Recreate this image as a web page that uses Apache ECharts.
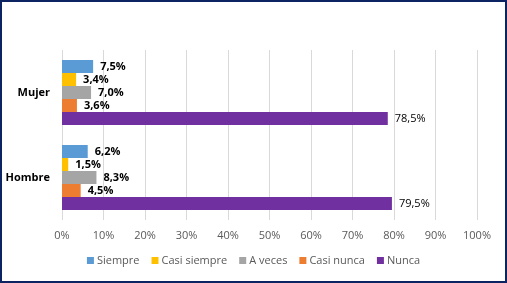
<!DOCTYPE html>
<html>
<head>
<meta charset="utf-8">
<script src="https://cdn.jsdelivr.net/npm/echarts@6/dist/echarts.min.js"></script>
<style>
  html, body { margin: 0; padding: 0; background: #fff; }
  #chart { width: 507px; height: 283px; box-sizing: border-box; border: 2px solid #0C2461; }
</style>
</head>
<body>
<div id="chart"></div>
<script>
  // categorias (de abajo hacia arriba)
  const categorias = ['Hombre', 'Mujer'];
  const nombres = ['Siempre', 'Casi siempre', 'A veces', 'Casi nunca', 'Nunca'];
  const siempre = [6.2, 7.5];
  const casiSiempre = [1.5, 3.4];
  const aVeces = [8.3, 7.0];
  const casiNunca = [4.5, 3.6];
  const nunca = [79.5, 78.5];
  const colores = ['#5B9BD5', '#FFC000', '#A5A5A5', '#ED7D31', '#7030A0'];

  const valores = [siempre, casiSiempre, aVeces, casiNunca, nunca];

  const myChart = echarts.init(document.getElementById('chart'));

  const fmt = p => p.value.toFixed(1).replace('.', ',') + '%';

  const option = {
    animation: false,
    textStyle: { fontFamily: 'Open Sans' },
    grid: { left: 60, right: 28, top: 48, bottom: 61 },
    legend: {
      data: nombres,
      bottom: 10,
      left: 'center',
      itemWidth: 7,
      itemHeight: 7,
      itemGap: 12,
      icon: 'rect',
      textStyle: { color: '#595959', fontSize: 11, padding: [0, 0, 0, -2] }
    },
    xAxis: {
      type: 'value',
      min: 0,
      max: 100,
      interval: 10,
      axisLine: { show: false },
      axisTick: { show: false },
      axisLabel: { color: '#595959', fontSize: 11, formatter: '{value}%', margin: 10 },
      splitLine: { lineStyle: { color: '#D9D9D9', width: 1 } }
    },
    yAxis: {
      type: 'category',
      data: categorias,
      axisLine: { show: false },
      axisTick: { show: false },
      axisLabel: { color: '#000', fontSize: 11, fontWeight: 'bold', margin: 12 }
    },
    // con eje de categorias vertical la primera serie queda arriba
    series: nombres.map((n, i) => ({
      type: 'bar',
      name: n,
      data: valores[i],
      barWidth: 13,
      barGap: '0%',
      itemStyle: { color: colores[i] },
      label: {
        show: true,
        position: 'right',
        distance: 7,
        formatter: fmt,
        color: '#000',
        fontSize: 11,
        fontWeight: i === 4 ? 'normal' : 'bold'
      }
    }))
  };

  myChart.setOption(option);
</script>
</body>
</html>
